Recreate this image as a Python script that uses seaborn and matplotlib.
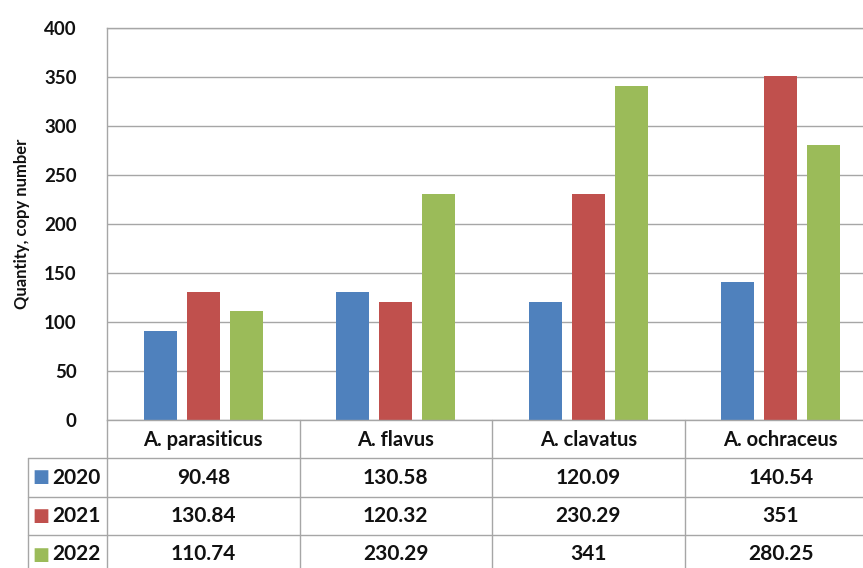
import matplotlib
matplotlib.use("Agg")
import matplotlib.pyplot as plt
import matplotlib.transforms as mtransforms
import seaborn as sns
import pandas as pd

categories = ["A. parasiticus", "A. flavus", "A. clavatus", "A. ochraceus"]
years = ["2020", "2021", "2022"]
v2020 = [90.48, 130.58, 120.09, 140.54]
v2021 = [130.84, 120.32, 230.29, 351]
v2022 = [110.74, 230.29, 341, 280.25]
table_text = {
    "2020": ["90.48", "130.58", "120.09", "140.54"],
    "2021": ["130.84", "120.32", "230.29", "351"],
    "2022": ["110.74", "230.29", "341", "280.25"],
}
colors = ["#4F81BD", "#C0504D", "#9BBB59"]

rows = []
for yr, vals in zip(years, [v2020, v2021, v2022]):
    for c, v in zip(categories, vals):
        rows.append({"Species": c, "Year": yr, "Value": v})
df = pd.DataFrame(rows)

sns.set_style("white")
plt.rcParams["font.family"] = ["Lato", "DejaVu Sans"]

W, H = 863, 568
fig = plt.figure(figsize=(W / 100, H / 100), dpi=100)
ax_l, ax_r, ax_t, ax_b = 107, 877, 28, 420
ax = fig.add_axes([ax_l / W, 1 - ax_b / H, (ax_r - ax_l) / W, (ax_b - ax_t) / H])

sns.barplot(data=df, x="Species", y="Value", hue="Year", order=categories,
            hue_order=years, palette=colors, width=0.67, gap=0.23,
            saturation=1, ax=ax, legend=False, linewidth=0)

ax.set_xlim(-0.5, 3.5)
ax.set_ylim(0, 400)
ax.set_yticks(range(0, 401, 50))
ax.set_yticklabels([str(t) for t in range(0, 401, 50)], fontsize=13.5,
                   fontweight="bold", color="#111111")
ax.tick_params(axis="y", length=0, pad=22)
ax.set_xticks([])
ax.set_xlabel("")
ax.set_ylabel("Quantity, copy number", fontsize=12, fontweight="bold",
              labelpad=10, color="#111111")
ax.yaxis.grid(True, color="#A6A6A6", linewidth=1)
ax.set_axisbelow(True)
for s in ["left", "top", "right", "bottom"]:
    ax.spines[s].set_color("#A6A6A6")
    ax.spines[s].set_linewidth(1)

# data table below axes
ph = ax_b - ax_t
colw = (ax_r - ax_l) / 4
trans = mtransforms.blended_transform_factory(ax.transData, ax.transAxes)
def ypix(py):
    return (ax_b - py) / ph

row_edges = [420, 458, 497, 535, 574]
line_kw = dict(color="#A6A6A6", linewidth=1, clip_on=False)
for b in [-0.5, 0.5, 1.5, 2.5]:
    ax.plot([b, b], [ypix(420), ypix(574)], transform=trans, **line_kw)
left_x = -0.5 - (107 - 28) / colw
ax.plot([left_x, left_x], [ypix(458), ypix(574)], transform=trans, **line_kw)
for e in row_edges[1:4]:
    ax.plot([left_x, 3.5], [ypix(e), ypix(e)], transform=trans, **line_kw)

for i, c in enumerate(categories):
    ax.text(i, ypix(440), c, transform=trans, ha="center", va="center",
            fontsize=14.5, fontweight="bold", color="#111111")
sq_x = left_x + (41 - 28) / colw
txt_x = left_x + (52 - 28) / colw
for r, yr in enumerate(years):
    yc = ypix((row_edges[r + 1] + row_edges[r + 2]) / 2)
    ax.text(sq_x, yc, "\u25A0", transform=trans, ha="center", va="center",
            fontsize=13, color=colors[r], family="DejaVu Sans")
    ax.text(txt_x, yc, yr, transform=trans, ha="left", va="center",
            fontsize=15, fontweight="bold", color="#111111")
    for i, s in enumerate(table_text[yr]):
        ax.text(i, yc, s, transform=trans, ha="center", va="center",
                fontsize=15, fontweight="bold", color="#111111")

fig.savefig("out.png", dpi=100)
